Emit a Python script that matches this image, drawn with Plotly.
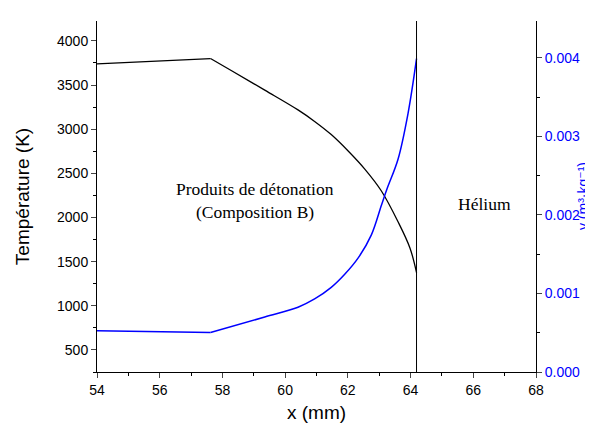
import plotly.graph_objects as go

# Temperature profile (black), left axis
x_T = [54.0, 57.62, 58.28, 59.35, 60.41, 60.94, 61.47, 62.01, 62.54, 63.07, 63.60, 63.98, 64.19]
T = [3740, 3800, 3665, 3442, 3218, 3088, 2939, 2753, 2548, 2300, 1952, 1655, 1376]

# Specific volume profile (blue), right axis
x_v = [54.0, 57.62, 59.35, 60.41, 60.94, 61.47, 61.90, 62.33, 62.75, 63.07, 63.25, 63.60, 63.92, 64.19]
v = [0.000524, 0.000503, 0.000700, 0.000825, 0.000930, 0.001077, 0.001244, 0.001453,
     0.001746, 0.002123, 0.002333, 0.002710, 0.003295, 0.003990]

interface_x = 64.19

label_products = "Produits de détonation"
label_comp = "(Composition B)"
label_he = "Hélium"
label_v = "v (m³·kg⁻¹)"

sans = "Liberation Sans, Arial, DejaVu Sans, sans-serif"
serif = "Liberation Serif, Times New Roman, serif"

fig = go.Figure()
# straight plateau segment then smooth curve (split at the kink, index 1)
fig.add_trace(go.Scatter(x=x_T[:2], y=T[:2], mode="lines", line=dict(color="black", width=1.3),
                         showlegend=False))
fig.add_trace(go.Scatter(x=x_T[1:], y=T[1:], mode="lines", line=dict(color="black", width=1.3),
                         line_shape="spline", line_smoothing=1.0, showlegend=False))
fig.add_trace(go.Scatter(x=x_v[:2], y=v[:2], mode="lines", line=dict(color="#0000ff", width=1.5),
                         yaxis="y2", showlegend=False))
fig.add_trace(go.Scatter(x=x_v[1:], y=v[1:], mode="lines", line=dict(color="#0000ff", width=1.5),
                         line_shape="spline", line_smoothing=1.0, yaxis="y2", showlegend=False))

fig.add_shape(type="line", xref="x", yref="paper", x0=interface_x, x1=interface_x, y0=0, y1=1,
              line=dict(color="black", width=1))

fig.update_layout(
    width=593, height=423,
    margin=dict(l=89, r=65, t=13, b=54),
    plot_bgcolor="white", paper_bgcolor="white",
    font=dict(family=sans, size=14, color="black"),
    xaxis=dict(range=[54, 68], tickvals=[54, 56, 58, 60, 62, 64, 66, 68],
               ticks="outside", ticklen=5, tickwidth=1, showline=True, linecolor="black",
               linewidth=1, showgrid=False, zeroline=False,
               minor=dict(dtick=1, ticks="outside", ticklen=3, tickcolor="black"),
               title=dict(text="x (mm)", font=dict(size=19), standoff=8)),
    xaxis2=dict(range=[54, 68], overlaying="x", side="top", tickvals=[54, 56, 58, 60, 62, 64, 66, 68],
                ticks="inside", ticklen=5, showticklabels=False, showline=True, linecolor="black",
                linewidth=1, showgrid=False, zeroline=False,
                minor=dict(dtick=1, ticks="inside", ticklen=3, tickcolor="black")),
    yaxis=dict(range=[250, 4225], tickvals=[500, 1000, 1500, 2000, 2500, 3000, 3500, 4000],
               ticks="outside", ticklen=5, showline=True, linecolor="black", linewidth=1,
               showgrid=False, zeroline=False,
               minor=dict(dtick=250, tick0=0, ticks="outside", ticklen=3, tickcolor="black"),
               title=dict(text="Température (K)", font=dict(size=19), standoff=22)),
    yaxis2=dict(range=[0, 0.00447], overlaying="y", side="right", anchor="x",
                tickvals=[0, 0.001, 0.002, 0.003, 0.004], tickformat=".3f",
                ticks="outside", ticklen=5, showline=True, linecolor="black", linewidth=1,
                tickfont=dict(color="#0000ff"), showgrid=False, zeroline=False,
                minor=dict(dtick=0.0005, tick0=0, ticks="outside", ticklen=3, tickcolor="black")),
)

fig.add_annotation(x=59.03, y=2317, xref="x", yref="y", text=label_products, showarrow=False,
                   font=dict(family=serif, size=17.5, color="black"))
fig.add_annotation(x=59.03, y=2063, xref="x", yref="y", text=label_comp, showarrow=False,
                   font=dict(family=serif, size=17.5, color="black"))
fig.add_annotation(x=66.35, y=2149, xref="x", yref="y", text=label_he, showarrow=False,
                   font=dict(family=serif, size=17.5, color="black"))
fig.add_annotation(x=1.106, y=0.5, xref="paper", yref="paper", xanchor="center", yanchor="middle",
                   text=label_v, textangle=-90, showarrow=False,
                   font=dict(family=sans, size=14, color="#0000ff"))

fig.write_html("out.html")
